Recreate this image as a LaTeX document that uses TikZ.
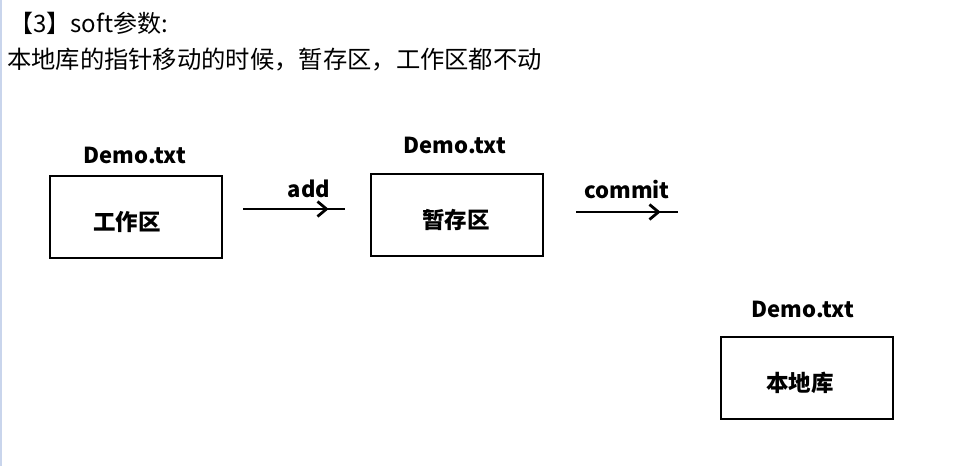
\documentclass[tikz,border=0pt]{standalone}
\usepackage{fontspec}
\setmainfont{Noto Sans CJK SC}
\newfontfamily\cjk{Noto Sans CJK SC}
\usetikzlibrary{arrows.meta,decorations.markings}
\definecolor{stripblue}{HTML}{C9D5EC}
\tikzset{
  box/.style={draw,line width=2.8pt,minimum width=172pt,minimum height=82pt,inner sep=0pt},
  boxtext/.style={font=\cjk\bfseries\fontsize{22.5}{26}\selectfont,inner sep=0pt},
  filename/.style={font=\cjk\bfseries\fontsize{22}{26}\selectfont,inner sep=0pt},
  cmdtext/.style={font=\cjk\bfseries\fontsize{22}{26}\selectfont,inner sep=0pt},
  flow/.style={line width=2.6pt,postaction={decorate},
    decoration={markings,mark=at position #1 with {\arrow{Straight Barb[length=9pt,width=15pt,line width=2.8pt]}}}},
  flow/.default=0.84
}
\begin{document}
\begin{tikzpicture}[x=1pt,y=-1pt]
  \useasboundingbox[fill=white] (0,0) rectangle (958,466);
  \fill[stripblue] (0,0) rectangle (2,466);
  % heading
  \node[anchor=west,inner sep=0pt,font=\cjk\fontsize{24}{28}\selectfont] (title) at (9,23) {【3】soft参数:};
  \node[anchor=west,inner sep=0pt,font=\cjk\fontsize{24.3}{28}\selectfont] (note) at (7,60) {本地库的指针移动的时候，暂存区，工作区都不动};
  % three areas
  \node[box] (work) at (136,217) {};
  \node[boxtext] (workt) at (127,222) {工作区};
  \node[filename] (workf) at (135,155) {Demo.txt};
  \node[box] (stage) at (457,215) {};
  \node[boxtext] (staget) at (456,220) {暂存区};
  \node[filename] (stagef) at (455,145) {Demo.txt};
  \node[box] (repo) at (807,378) {};
  \node[boxtext] (repot) at (800,383) {本地库};
  \node[filename] (repof) at (803,309) {Demo.txt};
  % commands
  \coordinate (add1) at (243,209);
  \coordinate (add2) at (345,209);
  \draw[flow] (add1) -- (add2);
  \node[cmdtext] (addt) at (309,189) {add};
  \coordinate (com1) at (576,212);
  \coordinate (com2) at (678,212);
  \draw[flow=0.83] (com1) -- (com2);
  \node[cmdtext] (comt) at (627,190) {commit};
\end{tikzpicture}
\end{document}
